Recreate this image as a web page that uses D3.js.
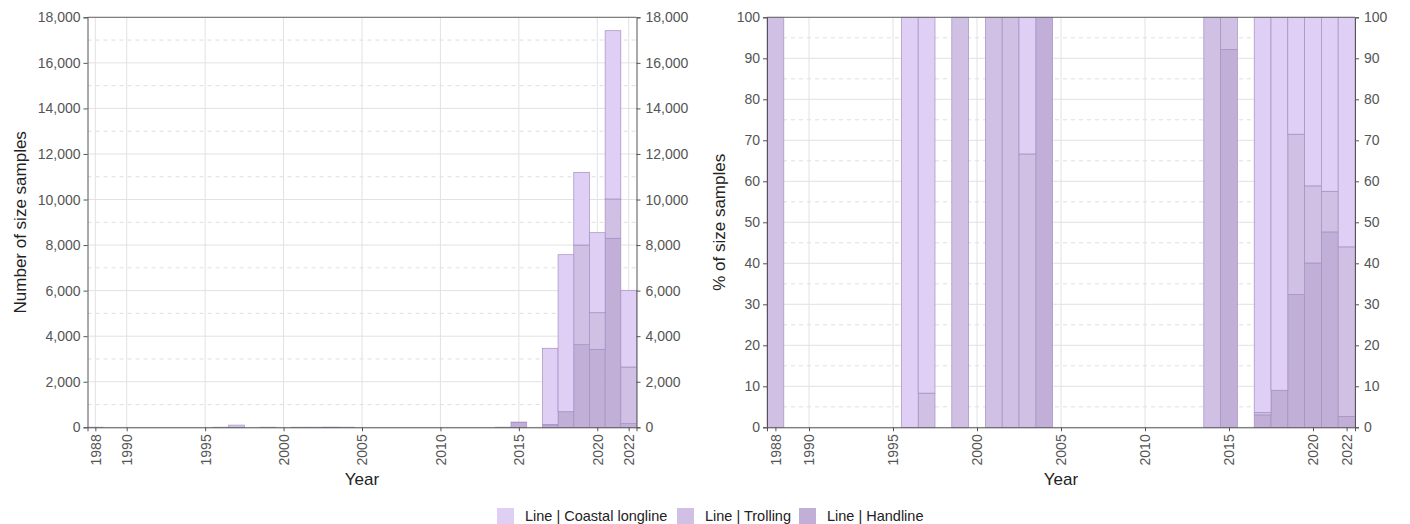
<!DOCTYPE html>
<html>
<head>
<meta charset="utf-8">
<script src="https://cdn.jsdelivr.net/npm/d3@7"></script>
<style>
  html, body { margin: 0; padding: 0; background: #fff; }
  svg { display: block; font-family: "Liberation Sans", Arial, sans-serif; }
</style>
</head>
<body>
<svg id="chart" width="1410" height="524"></svg>
<script>
// ---- data ----
const years = [1988, 1996, 1997, 1999, 2001, 2002, 2003, 2004, 2014, 2015, 2017, 2018, 2019, 2020, 2021, 2022];
const handline        = [0, 0, 0, 0, 0, 0, 0, 3, 0, 212, 105, 685, 3627, 3424, 8298, 160];
const trolling        = [3, 0, 8, 3, 2, 3, 2, 0, 4, 18, 20, 0, 4376, 1607, 1725, 2487];
const coastalLongline = [0, 3, 88, 0, 0, 0, 1, 0, 0, 0, 3345, 6893, 3192, 3513, 7389, 3368];
const seriesNames = ["Line | Coastal longline", "Line | Trolling", "Line | Handline"];
const xTickValues = [1988, 1990, 1995, 2000, 2005, 2010, 2015, 2020, 2022];
const leftYTicks = [0, 2000, 4000, 6000, 8000, 10000, 12000, 14000, 16000, 18000];
const leftYMinor = [1000, 3000, 5000, 7000, 9000, 11000, 13000, 15000, 17000];
const rightYTicks = [0, 10, 20, 30, 40, 50, 60, 70, 80, 90, 100];
const rightYMinor = [5, 15, 25, 35, 45, 55, 65, 75, 85, 95];

const fills = { "Line | Coastal longline": "#dfcff5", "Line | Trolling": "#d0c0e4", "Line | Handline": "#c1afd7" };
const strokeCol = "#a48fc2";

const rows = years.map((y, i) => ({
  year: y,
  "Line | Handline": handline[i],
  "Line | Trolling": trolling[i],
  "Line | Coastal longline": coastalLongline[i]
}));
const stackKeys = ["Line | Handline", "Line | Trolling", "Line | Coastal longline"];
const stackedAbs = d3.stack().keys(stackKeys)(rows);
const stackedPct = d3.stack().keys(stackKeys).offset(d3.stackOffsetExpand)(rows);

const svg = d3.select("#chart");
const plotTop = 17.3, plotBottom = 427.3;

function panel(opts) {
  const g = svg.append("g");
  const x = d3.scaleLinear().domain([1987.5, 2022.5]).range([opts.x0, opts.x1]);
  const y = d3.scaleLinear().domain([0, opts.max]).range([plotBottom, plotTop]);
  const k = opts.pct ? 100 : 1;

  // minor dashed grid
  g.append("g").selectAll("line").data(opts.minor).join("line")
    .attr("x1", opts.x0).attr("x2", opts.x1)
    .attr("y1", d => y(d)).attr("y2", d => y(d))
    .attr("stroke", "#d6d6d6").attr("stroke-width", 0.8).attr("stroke-dasharray", "4,4");
  // major grid
  g.append("g").selectAll("line").data(opts.major).join("line")
    .attr("x1", opts.x0).attr("x2", opts.x1)
    .attr("y1", d => y(d)).attr("y2", d => y(d))
    .attr("stroke", "#e2e2e2").attr("stroke-width", 1);
  // vertical grid
  g.append("g").selectAll("line").data(xTickValues).join("line")
    .attr("x1", d => x(d)).attr("x2", d => x(d))
    .attr("y1", plotTop).attr("y2", plotBottom)
    .attr("stroke", "#e2e2e2").attr("stroke-width", 1);

  // bars
  const data = opts.pct ? stackedPct : stackedAbs;
  data.forEach(layer => {
    g.append("g").selectAll("rect").data(layer.filter(d => d[1] - d[0] > 0)).join("rect")
      .attr("x", d => x(d.data.year - 0.5))
      .attr("width", d => x(d.data.year + 0.5) - x(d.data.year - 0.5))
      .attr("y", d => y(d[1] * k))
      .attr("height", d => y(d[0] * k) - y(d[1] * k))
      .attr("fill", fills[layer.key])
      .attr("stroke", strokeCol).attr("stroke-width", 0.7);
  });

  // top border
  g.append("line").attr("x1", opts.x0).attr("x2", opts.x1).attr("y1", plotTop).attr("y2", plotTop)
    .attr("stroke", "#666").attr("stroke-width", 1);

  const fmt = opts.pct ? d3.format("d") : d3.format(",");
  const styleAxis = sel => {
    sel.attr("font-family", null);
    sel.select(".domain").attr("stroke", "#555");
    sel.selectAll(".tick line").attr("stroke", "#555");
    sel.selectAll(".tick text").attr("fill", "#555").attr("font-size", 14);
  };
  g.append("g").attr("transform", `translate(${opts.x0},0)`)
    .call(d3.axisLeft(y).tickValues(opts.major).tickFormat(fmt).tickSizeOuter(0).tickSize(4).tickPadding(3))
    .call(styleAxis);
  g.append("g").attr("transform", `translate(${opts.x1},0)`)
    .call(d3.axisRight(y).tickValues(opts.major).tickFormat(fmt).tickSizeOuter(0).tickSize(4).tickPadding(5))
    .call(styleAxis);
  const xa = g.append("g").attr("transform", `translate(0,${plotBottom})`)
    .call(d3.axisBottom(x).tickValues(xTickValues).tickFormat(d3.format("d")).tickSizeOuter(0).tickSize(4))
    .call(styleAxis);
  xa.selectAll(".tick text")
    .attr("transform", "rotate(-90)")
    .attr("text-anchor", "end")
    .attr("x", -7).attr("y", 0).attr("dy", "0.35em");

  g.append("text").attr("x", (opts.x0 + opts.x1) / 2).attr("y", 485)
    .attr("text-anchor", "middle").attr("font-size", 17).attr("fill", "#222").text("Year");
  g.append("text").attr("transform", `translate(${opts.titleX},${(plotTop + plotBottom) / 2}) rotate(-90)`)
    .attr("text-anchor", "middle").attr("font-size", 17).attr("fill", "#222").text(opts.title);
}

panel({ x0: 87.5, x1: 636.5, max: 18000, major: leftYTicks, minor: leftYMinor, pct: false,
        title: "Number of size samples", titleX: 26 });
panel({ x0: 767, x1: 1355, max: 100, major: rightYTicks, minor: rightYMinor, pct: true,
        title: "% of size samples", titleX: 725 });

// legend
const legendX = [497, 677, 799];
const lg = svg.append("g");
seriesNames.forEach((name, i) => {
  lg.append("rect").attr("x", legendX[i]).attr("y", 508).attr("width", 17).attr("height", 16)
    .attr("fill", fills[name]);
  lg.append("text").attr("x", legendX[i] + 28).attr("y", 516).attr("dy", "0.35em")
    .attr("font-size", 14.5).attr("fill", "#222").text(name);
});
</script>
</body>
</html>
